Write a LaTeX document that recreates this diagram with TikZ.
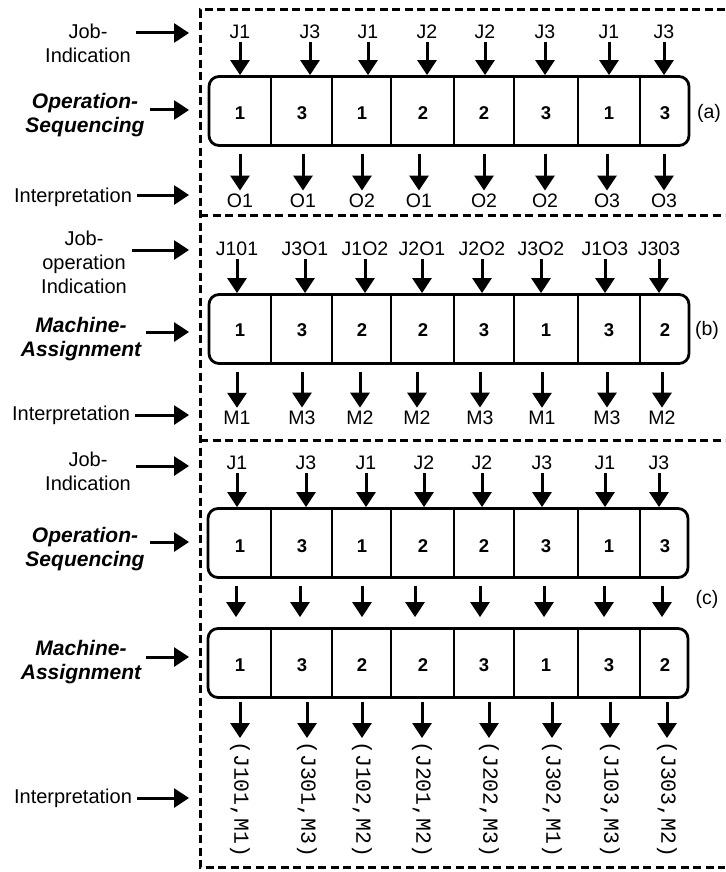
\documentclass[tikz,border=0pt]{standalone}
\usepackage{fontspec}
\setmainfont{Liberation Sans}
\setmonofont{Liberation Mono}
\usetikzlibrary{arrows.meta}

\begin{document}
\begin{tikzpicture}[x=1pt,y=-1pt,
  >={Triangle[length=15pt,width=19pt]},
  arr/.style={->,line width=3pt},
  frame/.style={line width=3pt,dash pattern=on 8pt off 4.5pt},
  chrom/.style={draw,line width=2.8pt,rounded corners=10pt,minimum width=480pt,minimum height=69pt},
  cut/.style={line width=2.8pt},
  gene/.style={font=\fontsize{18.5}{20}\selectfont\bfseries},
  tag/.style={font=\fontsize{19.5}{22}\selectfont},
  side/.style={font=\fontsize{20}{24}\selectfont,align=center,inner sep=0pt},
  sideb/.style={font=\fontsize{21}{24}\selectfont\bfseries\itshape,align=center,inner sep=0pt},
  pair/.style={font=\fontsize{21.5}{24}\selectfont\ttfamily,rotate=-90,anchor=west,inner sep=3pt}]
 \useasboundingbox (0,0) rectangle (725,872);
 % dashed frame
 \draw[frame] (725,10) -- (200,10) -- (200,867) -- (725,867);
 \draw[frame] (200,215) -- (725,215) (200,440) -- (725,440);

 % chromosomes
 \node[chrom] (sa) at (449,111) {};
 \node[chrom] (sb) at (449,329) {};
 \node[chrom] (sc) at (448,543) {};
 \node[chrom] (sd) at (448,663) {};
 \foreach \s in {sa,sb,sc,sd}
   \foreach \d in {271,332,391,454,514,578,640}
     \draw[cut] (\s.north -| \d,0) -- (\s.south -| \d,0);

 % (a) operation sequencing
 \foreach \x/\n [count=\i] in {240/1,302/3,362/1,423/2,484/2,546/3,609/1,665/3}
   \node[gene] (ga\i) at (\x,113) {\n};
 \foreach \x/\t [count=\i] in {240/J1,310/J3,368/J1,427/J2,485/J2,545/J3,609/J1,664/J3}{
   \node[tag] (ja\i) at (\x,32) {\t};
   \draw[arr] (ja\i) -- (ja\i |- sa.north);}
 \foreach \x/\t [count=\i] in {240/O1,303/O1,362/O2,419/O1,484/O2,545/O2,607/O3,664/O3}{
   \node[tag] (oa\i) at (\x,201) {\t};
   \draw[arr,shorten <=7pt] (sa.south -| oa\i) -- (oa\i);}
 \node[tag] (taga) at (709,113) {(a)};

 % (b) machine assignment
 \foreach \x/\n [count=\i] in {240/1,302/3,362/2,423/2,484/3,546/1,609/3,665/2}
   \node[gene] (gb\i) at (\x,330) {\n};
 \foreach \x/\t [count=\i] in {237/J101,305/J3O1,365/J1O2,422/J2O1,482/J2O2,541/J3O2,605/J1O3,659/J303}{
   \node[tag] (jb\i) at (\x,249) {\t};
   \draw[arr] (jb\i) -- (jb\i |- sb.north);}
 \foreach \x/\t [count=\i] in {237/M1,302/M3,360/M2,417/M2,480/M3,542/M1,607/M3,662/M2}{
   \node[tag] (mb\i) at (\x,418) {\t};
   \draw[arr,shorten <=7pt] (sb.south -| mb\i) -- (mb\i);}
 \node[tag] (tagb) at (707,330) {(b)};

 % (c) both chromosomes
 \foreach \x/\n [count=\i] in {240/1,302/3,362/1,423/2,484/2,546/3,609/1,665/3}
   \node[gene] (gc\i) at (\x,546) {\n};
 \foreach \x/\n [count=\i] in {240/1,302/3,362/2,423/2,484/3,546/1,609/3,665/2}
   \node[gene] (gd\i) at (\x,665) {\n};
 \foreach \x/\t [count=\i] in {237/J1,306/J3,366/J1,424/J2,482/J2,542/J3,605/J1,659/J3}{
   \node[tag] (jc\i) at (\x,463) {\t};
   \draw[arr] (jc\i) -- (jc\i |- sc.north);}
 \foreach \x in {236,300,362,415,480,544,604,662}
   \draw[arr,shorten <=7pt,shorten >=10pt] (sc.south -| \x,0) -- (sd.north -| \x,0);
 \foreach \x/\t [count=\i] in {240/{(J101,M1)},307/{(J301,M3)},362/{(J102,M2)},422/{(J201,M2)},
                               489/{(J202,M3)},552/{(J302,M1)},610/{(J103,M3)},667/{(J303,M2)}}{
   \node[pair] (pd\i) at (\x,738) {\t};
   \draw[arr,shorten <=3pt] (sd.south -| pd\i.west) -- (pd\i.west);}
 \node[tag] (tagc) at (707,599) {(c)};

 % row names
 \node[side] (joba) at (88,43) {Job-\\Indication};
 \node[sideb] (opa) at (85,115) {Operation-\\Sequencing};
 \node[side] (inta) at (73,197) {Interpretation};
 \node[side] (jobb) at (84,262) {Job-\\operation\\Indication};
 \node[sideb] (mab) at (81,339) {Machine-\\Assignment};
 \node[side] (intb) at (71,415) {Interpretation};
 \node[side] (jobc) at (88,471) {Job-\\Indication};
 \node[sideb] (opc) at (85,549) {Operation-\\Sequencing};
 \node[sideb] (mac) at (81,662) {Machine-\\Assignment};
 \node[side] (intc) at (73,798) {Interpretation};
 \foreach \n/\y in {joba/33,opa/110,inta/195,jobb/250,mab/332,intb/415,jobc/466,opc/542,mac/657,intc/798}{
   \coordinate (\n-e) at (189,\y);
   \draw[arr,shorten <=5pt] (\n.east |- \n-e) -- (\n-e);}
\end{tikzpicture}
\end{document}
